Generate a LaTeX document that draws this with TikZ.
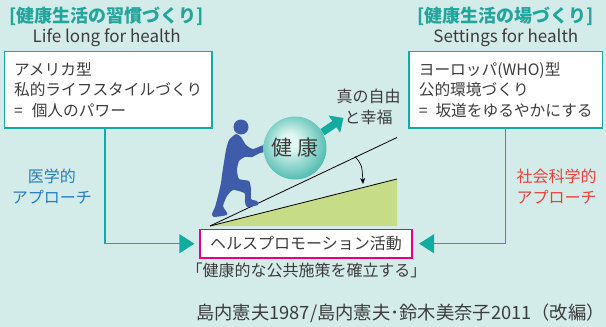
\documentclass[tikz,border=0pt]{standalone}
\usepackage{fontspec}
\setmainfont{Noto Sans CJK JP}
\usetikzlibrary{arrows.meta,positioning}

\definecolor{bgteal}{RGB}{212,236,233}
\definecolor{lineteal}{RGB}{20,170,160}
\definecolor{headteal}{RGB}{35,165,155}
\definecolor{medblue}{RGB}{35,125,195}
\definecolor{socred}{RGB}{232,65,60}
\definecolor{promopink}{RGB}{228,0,127}
\definecolor{walkerblue}{RGB}{62,92,170}
\definecolor{slopegreen}{RGB}{198,220,135}
\definecolor{inkgray}{RGB}{60,60,60}
\definecolor{ballhi}{RGB}{225,247,242}
\definecolor{ballteal}{RGB}{0,155,140}

\pgfdeclareradialshading{healthball}{\pgfpoint{-5bp}{6bp}}{color(0bp)=(ballhi); color(6bp)=(ballhi); color(30bp)=(ballteal!70!ballhi); color(50bp)=(ballteal)}

\tikzset{
  maintitle/.style={font=\fontsize{18}{20}\selectfont\bfseries, text=headteal},
  motto/.style={font=\fontsize{17}{20}\selectfont, text=inkgray},
  plan/.style={draw=lineteal, line width=1.3pt, fill=white, align=left, text=inkgray,
    font=\fontsize{15.7}{20.5}\selectfont, minimum height=76.5pt},
  promo/.style={draw=promopink, line width=1.5pt, fill=white, text=inkgray,
    font=\fontsize{16}{20}\selectfont, minimum width=211.7pt, minimum height=28.7pt},
  approach/.style={align=center, font=\fontsize{16}{21.5}\selectfont},
  note/.style={text=inkgray, font=\fontsize{16}{20}\selectfont},
  flow/.style={draw=lineteal, line width=1.3pt, -{Triangle[length=15pt,width=19pt]}},
  ball/.style={circle, minimum size=63pt, inner sep=0pt, shading=healthball,
    text=inkgray, font=\fontsize{21}{24}\selectfont},
}

\begin{document}
\begin{tikzpicture}[x=1pt,y=-1pt]
	
	% backdrop
	\fill[bgteal] (0,0) rectangle (606,327);
	\useasboundingbox (0,0) rectangle (606,327);
	
	% the slope
	\coordinate (base) at (210,226);
	\coordinate (easy) at (397,179);
	\coordinate (steep) at (397,137.5);
	\fill[slopegreen] (base) -- (easy) -- (397,226) -- cycle;
	\draw[line width=0.8pt] (base) -- (easy);
	\draw[line width=0.8pt] (base) -- (steep);
	\draw[line width=0.7pt,-{Stealth[length=6pt,width=5pt]}] (355,156.5) .. controls (362,165) .. (363,184);
	
	% the climber
	\fill[walkerblue] (241,127) circle[radius=7.5pt];
	\fill[walkerblue] plot[smooth cycle, tension=0.35] coordinates {
		(236,134) (229,140) (226,150) (224,162) (222,175) (221,183)
		(218,196) (215,207) (212,214) (214,217) (227,215) (226,211)
		(223,206) (227,196) (233,190) (242,192) (245,194) (245,202)
		(247,207) (258,205) (257,201) (251,199) (251,189) (249,181)
		(239,179) (237,170) (239,161) (245,157) (252,157) (260,153)
		(264,152) (264,145) (253,149) (246,145) (241,137)};
	
	% the ball and where it is pushed to
	\node[ball] (health) at (295,148) {健\hspace{6pt}康};
	\coordinate (goal) at (343.5,118);
	\draw[draw=lineteal, line width=7.5pt, -{Triangle[length=11pt,width=20pt]}] (health.30) -- (goal);
	\node[approach, text=inkgray] (freedom) at (368.5,107) {真の自由\\と幸福};
	
	% left column
	\node[maintitle] (habittitle) at (106.7,16.7) {[健康生活の習慣づくり]};
	\node[motto] (habitmotto) at (106.7,37.5) {Life long for health};
	\node[plan, minimum width=207.5pt] (habits) at (108.25,89.75)
		{アメリカ型\\私的ライフスタイルづくり\\=\hspace{9pt}個人のパワー};
	
	% right column
	\node[maintitle] (settingtitle) at (505.8,16.7) {[健康生活の場づくり]};
	\node[motto] (settingmotto) at (505.8,37.5) {Settings for health};
	\node[plan, minimum width=193.5pt] (settings) at (505.75,89.75)
		{ヨーロッパ(WHO)型\\公的環境づくり\\=\hspace{8pt}坂道をゆるやかにする};
	
	% health promotion
	\node[promo] (promo) at (306,243.7) {ヘルスプロモーション活動};
	\node[note] (policy) at (306.5,270.5) {「健康的な公共施策を確立する」};
	
	\draw[flow, shorten >=5pt] ([xshift=-3.25pt]habits.south) |- (promo.west);
	\draw[flow, shorten >=6.5pt] (settings.south) |- (promo.east);
	
	\node[approach, text=medblue] (medical) at (52,186.75) {医学的\\アプローチ};
	\node[approach, text=socred] (social) at (556.7,186.75) {社会科学的\\アプローチ};
	
	% source
	\node[note, anchor=west, inner sep=0pt, font=\fontsize{18.3}{20}\selectfont] (source) at (196,313)
		{島内憲夫1987/島内憲夫･鈴木美奈子2011（改編）};
	
\end{tikzpicture}
\end{document}
